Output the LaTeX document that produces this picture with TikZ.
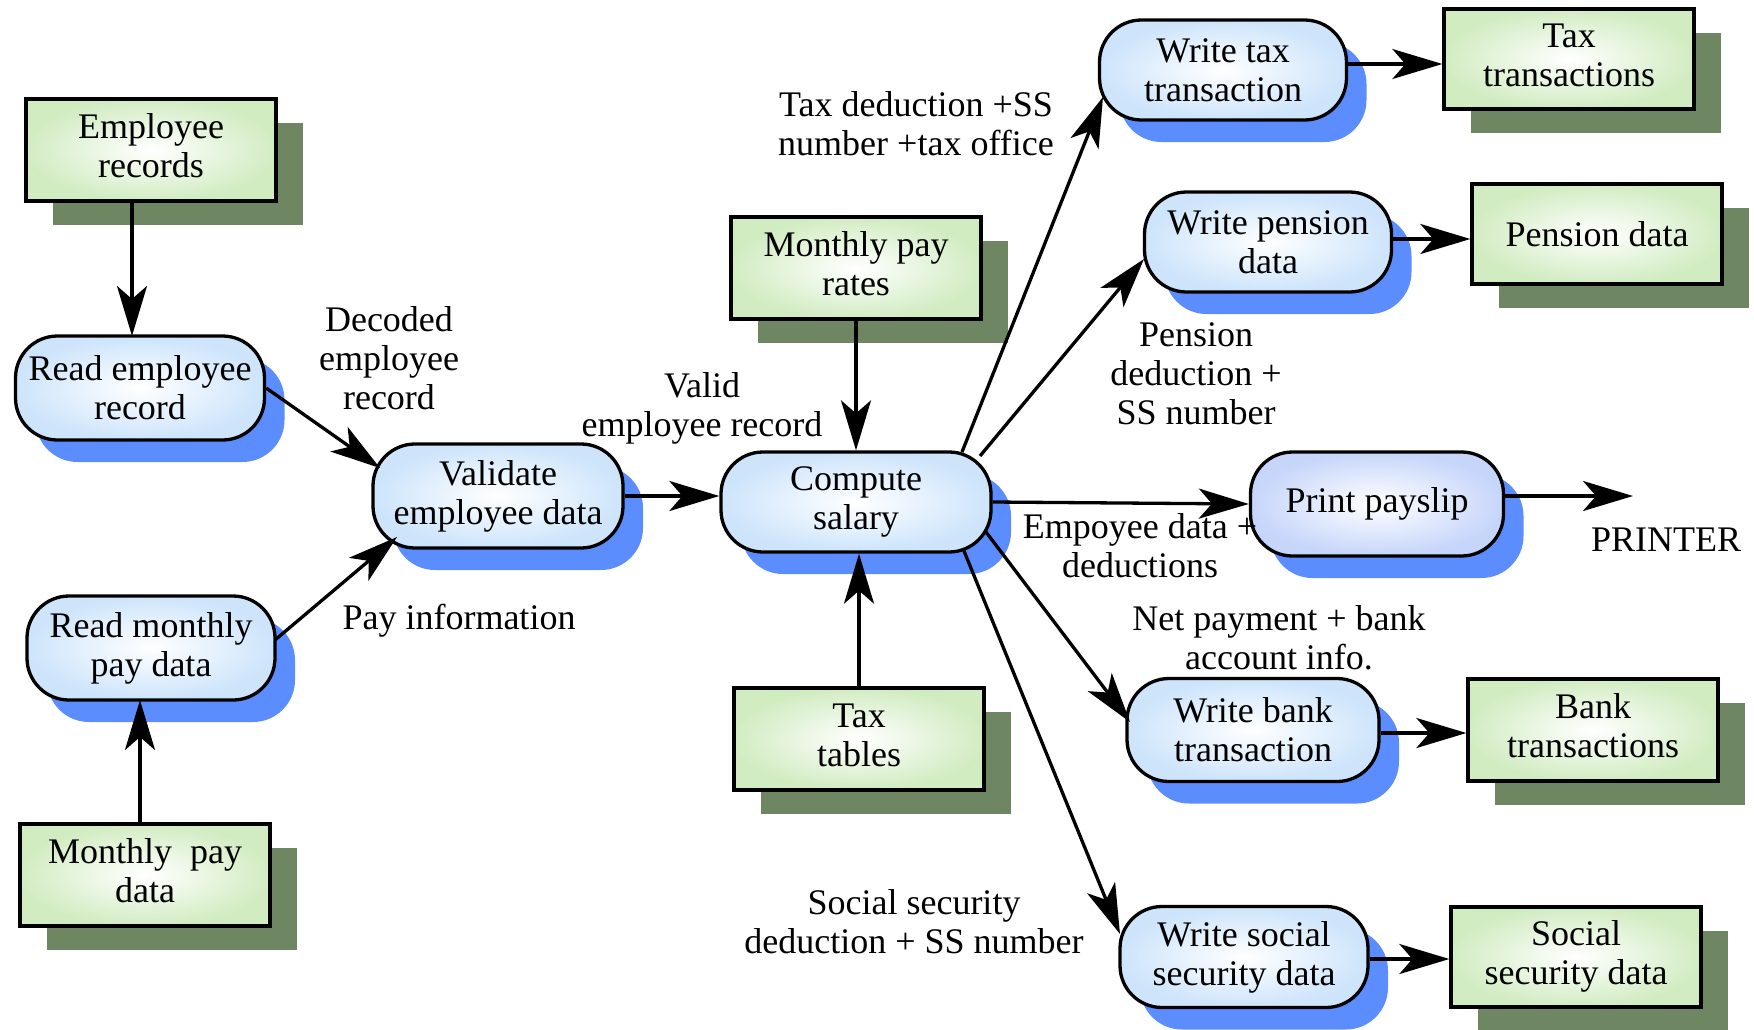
\documentclass[tikz,border=0pt]{standalone}
\usepackage{fontspec}
\setmainfont{Liberation Serif}
\usetikzlibrary{arrows.meta,shadows,calc}

\definecolor{storeedge}{HTML}{D2ECC2}
\definecolor{storeshade}{HTML}{6E8662}
\definecolor{procedge}{HTML}{CDE4FB}
\definecolor{printedge}{HTML}{C6D5FA}
\definecolor{procshade}{HTML}{5C8DFF}

% store captions sit a little above the box centre
\newcommand\storetext[1]{\begin{tabular}{@{}c@{}}#1\end{tabular}}

\begin{document}
\begin{tikzpicture}[x=1pt,y=-1pt,
  every node/.style={font=\fontsize{36}{39}\selectfont, align=center, inner sep=0pt},
  store/.style={draw=black, line width=3.3pt, shade, inner color=white, outer color=storeedge,
    minimum width=250pt, minimum height=102pt,
    general shadow={fill=storeshade, shadow xshift=27pt, shadow yshift=-24pt}},
  proc/.style={draw=black, line width=3.3pt, rounded corners=42pt, shade, inner color=white,
    outer color=procedge, minimum width=249pt, minimum height=102pt,
    general shadow={fill=procshade, shadow xshift=20pt, shadow yshift=-22pt}},
  lbl/.style={},
  flow/.style={draw=black, line width=3.3pt,
    -{Stealth[length=50pt,width=30pt,inset=13pt]}}
]
\useasboundingbox (0,0) rectangle (1754,1029);

% data stores
\node[store] (emprec)  at (151,150)  {\storetext{Employee\\records}};
\node[store] (mpdata)  at (145,875)  {\storetext{Monthly~ pay\\data}};
\node[store] (rates)   at (856,268)  {\storetext{Monthly pay\\rates}};
\node[store] (taxtab)  at (859,739)  {\storetext{Tax\\tables}};
\node[store, minimum height=100pt] (taxtr)   at (1569,59)  {\storetext{Tax\\transactions}};
\node[store, minimum height=100pt] (pension) at (1597,234) {Pension data};
\node[store] (bank)    at (1593,730) {\storetext{Bank\\transactions}};
\node[store, minimum height=100pt] (ssdata)  at (1576,957) {\storetext{Social\\security data}};

% processes
\node[proc, minimum height=104pt] (reademp)  at (140,388)  {Read employee\\record};
\node[proc, minimum width=250pt, minimum height=104pt] (validate) at (498,496) {Validate\\employee data};
\node[proc, minimum width=248pt, minimum height=104pt] (readpay)  at (151,648) {Read monthly\\pay data};
\node[proc, minimum width=270pt, minimum height=100pt] (compute)  at (856,502) {Compute\\salary};
\node[proc, minimum width=247pt, minimum height=100pt] (wtax)     at (1223,70) {Write tax\\transaction};
\node[proc, minimum width=247pt, minimum height=100pt] (wpens)    at (1268,242) {Write pension\\data};
\node[proc, minimum width=253pt, minimum height=104pt, outer color=printedge] (print) at (1377,504) {Print payslip};
\node[proc, minimum width=252pt, minimum height=103pt] (wbank)    at (1253,730) {Write bank\\transaction};
\node[proc, minimum width=248pt, minimum height=101pt] (wss)      at (1244,957) {Write social\\security data};

% flow labels
\node[lbl] (l1) at (389,358)    {Decoded\\employee\\record};
\node[lbl] (l2) at (702,408)    {Valid\\employee record};
\node[lbl] (l3) at (459,621)    {Pay information};
\node[lbl] (l4) at (916,124)    {Tax deduction +SS\\number +tax office};
\node[lbl] (l5) at (1196,374)   {Pension\\deduction +\\SS number};
\node[lbl] (l6) at (1140,546)   {Empoyee data +\\deductions};
\node[lbl] (l7) at (1279,638)   {Net payment + bank\\account info.};
\node[lbl] (l8) at (914,922)    {Social security\\deduction + SS number};
\node[lbl] (l9) at (1666,540)   {PRINTER};

\coordinate (printout) at (1633,496);

% data flows
\draw[flow] ($(emprec)+(-19,51)$) -- ($(reademp)+(-8,-52)$);
\draw[flow] (reademp.east) -- ($(validate)+(-118,-28)$);
\draw[flow] ($(readpay)+(124,-8)$) -- ($(validate)+(-101,41)$);
\draw[flow] ($(mpdata)+(-5,-52)$) -- ($(readpay)+(-11,52)$);
\draw[flow] (validate.east) -- (validate.east -| compute.west);
\draw[flow] (rates.south) -- (compute.north);
\draw[flow] (taxtab.north) -- (taxtab.north |- compute.south);
\draw[flow] ($(compute)+(106,-50)$) -- ($(wtax)+(-120,27)$);
\draw[flow] ($(compute)+(124,-46)$) -- ($(wpens)+(-124,17)$);
\draw[flow] (compute.east) -- (print.west);
\draw[flow] ($(compute)+(130,30)$) -- ($(wbank)+(-123,-8)$);
\draw[flow] ($(compute)+(108,49)$) -- ($(wss)+(-124,-23)$);
\draw[flow] ($(wtax.east)+(0,-6)$) coordinate (t1) -- (t1 -| taxtr.west);
\draw[flow] ($(wpens.east)+(0,-3)$) coordinate (t2) -- (t2 -| pension.west);
\draw[flow] (print.east |- printout) -- (printout);
\draw[flow] ($(wbank.east)+(0,3)$) coordinate (t3) -- (t3 -| bank.west);
\draw[flow] ($(wss.east)+(0,2)$) coordinate (t4) -- (t4 -| ssdata.west);
\end{tikzpicture}
\end{document}
